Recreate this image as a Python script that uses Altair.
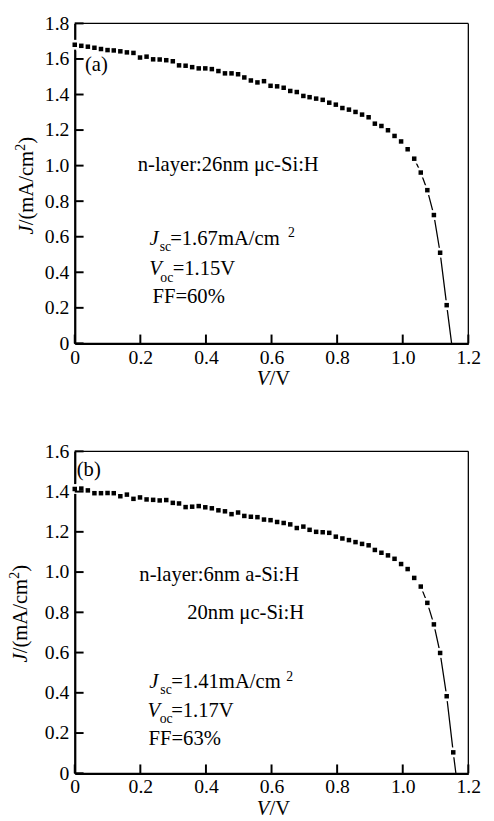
import altair as alt
import pandas as pd

FONT = "Liberation Serif"

# ---------------- panel (a) ----------------
a_V = [0.000, 0.020, 0.040, 0.060, 0.080, 0.100, 0.119, 0.139, 0.159, 0.179,
       0.199, 0.219, 0.239, 0.259, 0.279, 0.299, 0.318, 0.338, 0.358, 0.378,
       0.398, 0.418, 0.438, 0.458, 0.478, 0.498, 0.517, 0.537, 0.557, 0.577,
       0.597, 0.617, 0.637, 0.657, 0.677, 0.697, 0.716, 0.736, 0.756, 0.776,
       0.796, 0.816, 0.836, 0.856, 0.876, 0.896, 0.915, 0.935, 0.955, 0.975,
       0.995, 1.015, 1.035, 1.055, 1.075, 1.095, 1.114, 1.134]
a_J = [1.680, 1.674, 1.669, 1.663, 1.656, 1.650, 1.648, 1.643, 1.637, 1.634,
       1.608, 1.613, 1.598, 1.597, 1.593, 1.587, 1.564, 1.562, 1.554, 1.547,
       1.547, 1.543, 1.532, 1.519, 1.519, 1.514, 1.496, 1.479, 1.468, 1.475,
       1.449, 1.446, 1.438, 1.420, 1.414, 1.392, 1.385, 1.377, 1.370, 1.354,
       1.343, 1.324, 1.315, 1.302, 1.287, 1.272, 1.236, 1.223, 1.199, 1.167,
       1.136, 1.092, 1.039, 0.961, 0.862, 0.722, 0.510, 0.215]
a_end_V = 1.149

# ---------------- panel (b) ----------------
b_V = [0.000, 0.020, 0.040, 0.060, 0.080, 0.100, 0.119, 0.139, 0.159, 0.179,
       0.199, 0.219, 0.239, 0.259, 0.279, 0.299, 0.318, 0.338, 0.358, 0.378,
       0.398, 0.418, 0.438, 0.458, 0.478, 0.498, 0.517, 0.537, 0.557, 0.577,
       0.597, 0.617, 0.637, 0.657, 0.677, 0.697, 0.716, 0.736, 0.756, 0.776,
       0.796, 0.816, 0.836, 0.856, 0.876, 0.896, 0.915, 0.935, 0.955, 0.975,
       0.995, 1.015, 1.035, 1.055, 1.075, 1.095, 1.114, 1.134, 1.154]
b_J = [1.413, 1.415, 1.406, 1.392, 1.392, 1.393, 1.392, 1.377, 1.385, 1.364,
       1.371, 1.361, 1.359, 1.356, 1.358, 1.344, 1.341, 1.323, 1.325, 1.328,
       1.322, 1.317, 1.307, 1.302, 1.288, 1.296, 1.279, 1.275, 1.273, 1.261,
       1.258, 1.249, 1.244, 1.237, 1.219, 1.226, 1.210, 1.200, 1.198, 1.195,
       1.176, 1.167, 1.159, 1.149, 1.140, 1.133, 1.110, 1.096, 1.083, 1.066,
       1.040, 1.015, 0.971, 0.928, 0.847, 0.740, 0.598, 0.383, 0.104]
b_end_V = 1.162

# ---------------- ticks ----------------
x_ticks = [0.0, 0.2, 0.4, 0.6, 0.8, 1.0, 1.2]
a_y_ticks = [0.0, 0.2, 0.4, 0.6, 0.8, 1.0, 1.2, 1.4, 1.6, 1.8]
b_y_ticks = [0.0, 0.2, 0.4, 0.6, 0.8, 1.0, 1.2, 1.4, 1.6]

# ---------------- annotations ----------------
a_ann_text = ["(a)", "n-layer:26nm  \u03bcc-Si:H", "J", "sc", "=1.67mA/cm", "2",
              "V", "oc", "=1.15V", "FF=60%"]
a_ann_V = [0.031, 0.192, 0.228, 0.259, 0.291, 0.650, 0.227, 0.261, 0.2985, 0.237]
a_ann_J = [1.535, 0.970, 0.555, 0.517, 0.555, 0.600, 0.384, 0.347, 0.384, 0.226]

b_ann_text = ["(b)", "n-layer:6nm a-Si:H", "20nm  \u03bcc-Si:H", "J", "sc", "=1.41mA/cm", "2",
              "V", "oc", "=1.17V", "FF=63%"]
b_ann_V = [0.006, 0.197, 0.343, 0.227, 0.261, 0.294, 0.645, 0.222, 0.259, 0.294, 0.225]
b_ann_J = [1.476, 0.956, 0.769, 0.424, 0.392, 0.424, 0.460, 0.281, 0.252, 0.281, 0.143]

SUB = {"sc", "oc", "2"}
ITALIC = {"J", "V"}

W = 401
LABEL_EXPR = "datum.value == 0 ? '0' : datum.label"


def panel(V, J, endV, ymax, yticks, ann_text, ann_V, ann_J, H, ytitle_x):
    pts = pd.DataFrame({"V": V, "J": J})
    line_df = pd.DataFrame({"V": V + [endV], "J": J + [0.0]})
    xs = alt.Scale(domain=[0, 1.2], nice=False, zero=False)
    ys = alt.Scale(domain=[0, ymax], nice=False, zero=False)
    xaxis = alt.Axis(values=x_ticks, format=".1f", labelExpr=LABEL_EXPR,
                     tickSize=0, tickColor="white", tickWidth=0,
                     domainWidth=2.3, domainColor="black", labelFont=FONT,
                     labelFontSize=20, labelColor="black", labelPadding=4,
                     grid=False, labelFlush=False, labelOverlap=False, title=None)
    yaxis = alt.Axis(values=yticks, format=".1f", labelExpr=LABEL_EXPR,
                     tickSize=0, tickColor="white", tickWidth=0,
                     domainWidth=2.3, domainColor="black", labelFont=FONT,
                     labelFontSize=20, labelColor="black", labelPadding=6,
                     grid=False, labelFlush=False, labelOverlap=False, title=None)
    X = lambda f: alt.X(f, scale=xs, axis=xaxis)
    Y = lambda f: alt.Y(f, scale=ys, axis=yaxis)

    line = alt.Chart(line_df).mark_line(color="black", strokeWidth=1.3).encode(
        x=X("V:Q"), y=Y("J:Q"))
    halo = alt.Chart(pts).mark_point(shape="square", filled=True, color="white",
                                     size=100, opacity=1).encode(x=X("V:Q"), y=Y("J:Q"))
    marks = alt.Chart(pts).mark_point(shape="square", filled=True, color="black",
                                      size=21, opacity=1).encode(x=X("V:Q"), y=Y("J:Q"))

    xt = alt.Chart(pd.DataFrame({"V": x_ticks})).mark_rule(color="black", strokeWidth=2).encode(
        x=X("V:Q"), y=alt.value(H), y2=alt.value(H - 9))
    yt = alt.Chart(pd.DataFrame({"J": yticks})).mark_rule(color="black", strokeWidth=2).encode(
        y=Y("J:Q"), x=alt.value(0), x2=alt.value(9))
    # frame: top and right edges
    top_edge = alt.Chart(pd.DataFrame({"k": [0]})).mark_rule(color="black", strokeWidth=1.3).encode(
        x=alt.value(0), x2=alt.value(W), y=alt.value(0))
    right_edge = alt.Chart(pd.DataFrame({"k": [0]})).mark_rule(color="black", strokeWidth=1.3).encode(
        x=alt.value(W), y=alt.value(0), y2=alt.value(H))

    layers = [line, halo, marks, xt, yt, top_edge, right_edge]

    ann = pd.DataFrame({"t": ann_text, "V": ann_V, "J": ann_J})
    for style, size, cond in [("normal", 21, lambda t: t not in SUB and t not in ITALIC),
                              ("italic", 21, lambda t: t in ITALIC),
                              ("normal", 14, lambda t: t in SUB)]:
        sub = ann[ann["t"].map(cond)]
        layers.append(alt.Chart(sub).mark_text(
            font=FONT, fontSize=size, fontStyle=style, color="black",
            align="left", baseline="alphabetic").encode(
            x=X("V:Q"), y=Y("J:Q"), text="t:N"))

    # x-axis title  V/V  (V italic)
    xt_df = pd.DataFrame({"t": ["V", "/V"], "V": [0.555, 0.594], "s": ["italic", "normal"]})
    for st in ["italic", "normal"]:
        layers.append(alt.Chart(xt_df[xt_df["s"] == st]).mark_text(
            font=FONT, fontSize=21, fontStyle=st, color="black",
            align="left", baseline="alphabetic").encode(
            x=X("V:Q"), y=alt.value(H + 42), text="t:N"))

    # y-axis title  J/(mA/cm^2)  rotated
    y0 = 215
    pieces = [("J", "italic", 21, 0.0, 0),
              ("/(mA/cm", "normal", 21, 9.3, 0),
              ("2", "normal", 14, 85.3, -8),
              (")", "normal", 21, 92.3, 0)]
    for txt, st, fs, off, dx in pieces:
        layers.append(alt.Chart(pd.DataFrame({"t": [txt]})).mark_text(
            font=FONT, fontSize=fs, fontStyle=st, color="black", angle=270,
            align="left", baseline="alphabetic").encode(
            x=alt.value(ytitle_x + dx), y=alt.value(y0 - off), text="t:N"))

    return alt.layer(*layers).properties(width=W, height=H)


top = panel(a_V, a_J, a_end_V, 1.8, a_y_ticks, a_ann_text, a_ann_V, a_ann_J, 326, -43)
bottom = panel(b_V, b_J, b_end_V, 1.6, b_y_ticks, b_ann_text, b_ann_V, b_ann_J, 328, -49)

chart = alt.vconcat(top, bottom, spacing=54).properties(
    padding={"left": 0, "top": -2, "right": 5, "bottom": 0},
    background="white",
).configure_view(stroke=None).configure_axis(zindex=1)

chart.save("out.html", embed_options={"renderer": "svg", "actions": False})
